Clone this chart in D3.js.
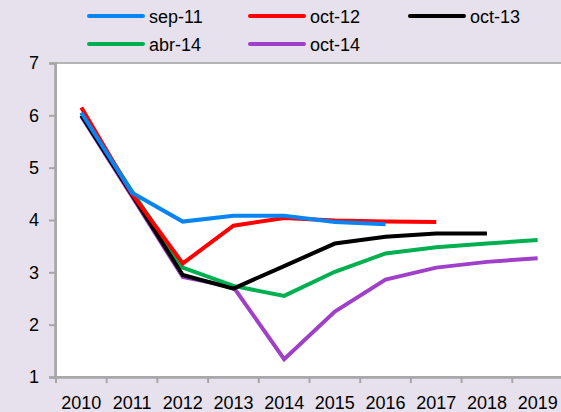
<!DOCTYPE html>
<html>
<head>
<meta charset="utf-8">
<script src="https://cdn.jsdelivr.net/npm/d3@7"></script>
<style>
  body { margin: 0; background: #e6e1ec; }
  svg { display: block; font-family: "Liberation Sans", Arial, sans-serif; }
</style>
</head>
<body>
<script>
const W = 561, H = 412;
const margin = {top: 63, right: -2, bottom: 35, left: 56};

const years = ["2010","2011","2012","2013","2014","2015","2016","2017","2018","2019"];
const seriesNames = ["sep-11","oct-12","oct-13","abr-14","oct-14"];
const colors = ["#0a84f0","#ff0000","#000000","#00b050","#a040c8"];
const yTicks = [1,2,3,4,5,6,7];

// forecasts per vintage (null = no value)
const sep11 = [6.05, 4.52, 3.97, 4.08, 4.08, 3.96, 3.92, null, null, null];
const oct12 = [6.15, 4.50, 3.17, 3.89, 4.04, 3.99, 3.97, 3.96, null, null];
const oct13 = [6.00, 4.48, 2.95, 2.69, 3.12, 3.55, 3.68, 3.74, 3.74, null];
const abr14 = [6.05, 4.55, 3.09, 2.74, 2.55, 3.01, 3.36, 3.48, 3.55, 3.62];
const oct14 = [5.98, 4.45, 2.91, 2.72, 1.34, 2.25, 2.86, 3.09, 3.20, 3.27];
const allSeries = [sep11, oct12, oct13, abr14, oct14];

const svg = d3.select("body").append("svg").attr("width", W).attr("height", H);

const xScale = d3.scaleBand().domain(years).range([margin.left, W - margin.right]);
const yScale = d3.scaleLinear().domain([1, 7]).range([H - margin.bottom, margin.top]);

// subtitle, mostly above the top edge as in the source
svg.append("text").attr("x", 10).attr("y", -4.5)
  .attr("font-size", 18).attr("fill", "#000")
  .text("(variación anual y)");

// plot area
svg.append("rect")
  .attr("x", margin.left).attr("y", margin.top)
  .attr("width", W - margin.left + 5).attr("height", yScale(1) - margin.top)
  .attr("fill", "#fff").attr("stroke", "#b4b4b4").attr("stroke-width", 2);

let yAxis = d3.axisLeft(yScale).tickValues(yTicks).tickSize(6).tickPadding(10).tickFormat(d3.format("d"));
svg.append("g").attr("transform", "translate(" + (margin.left - 1) + ",0)").call(yAxis)
  .call(g => g.select(".domain").attr("stroke", "#a6a6a6").attr("stroke-width", 2.5))
  .call(g => g.selectAll(".tick line").attr("stroke", "#a6a6a6").attr("stroke-width", 2))
  .call(g => g.selectAll("text").attr("font-size", 18).attr("fill", "#000"));

// x ticks sit on the category edges, labels at the centres
let xAxis = d3.axisBottom(xScale).tickSize(0).tickPadding(19);
svg.append("g").attr("transform", "translate(0," + yScale(1) + ")").call(xAxis)
  .call(g => g.select(".domain").attr("stroke", "#a6a6a6").attr("stroke-width", 2.5))
  .call(g => g.selectAll("text").attr("font-size", 18).attr("fill", "#000"));
svg.append("g").selectAll("line")
  .data(years)
  .enter()
  .append("line")
  .attr("x1", d => xScale(d)).attr("x2", d => xScale(d))
  .attr("y1", yScale(1)).attr("y2", yScale(1) + 6)
  .attr("stroke", "#a6a6a6").attr("stroke-width", 2);

const line = d3.line()
  .defined(d => d != null)
  .x((d, i) => xScale(years[i]) + xScale.bandwidth() / 2)
  .y(d => yScale(d));

// draw back to front: purple under the rest
const order = [4, 3, 2, 1, 0];
svg.append("g").selectAll("path")
  .data(order)
  .enter()
  .append("path")
  .attr("d", k => line(allSeries[k]))
  .attr("fill", "none")
  .attr("stroke", k => colors[k])
  .attr("stroke-width", 4)
  .attr("stroke-linejoin", "miter");

// legend
const legendPos = [[89, 16], [250, 16], [410, 16], [89, 44], [250, 44]];
const legend = svg.append("g").selectAll("g")
  .data(seriesNames)
  .enter()
  .append("g")
  .attr("transform", (d, i) => "translate(" + legendPos[i][0] + "," + legendPos[i][1] + ")");
legend.append("line")
  .attr("x1", 0).attr("x2", 54).attr("y1", 0).attr("y2", 0)
  .attr("stroke", (d, i) => colors[i]).attr("stroke-width", 4).attr("stroke-linecap", "round");
legend.append("text")
  .attr("x", 60).attr("y", 6.5)
  .attr("font-size", 18).attr("fill", "#000")
  .text(d => d);
</script>
</body>
</html>
